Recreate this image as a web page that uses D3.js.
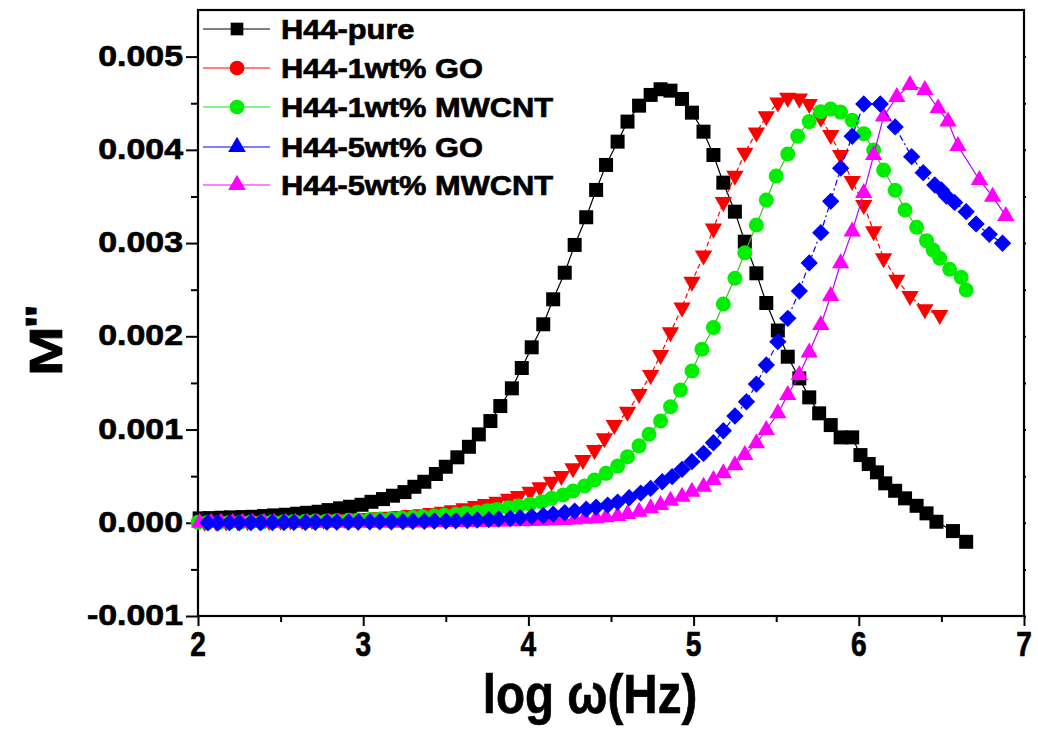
<!DOCTYPE html>
<html>
<head>
<meta charset="utf-8">
<script src="https://cdn.jsdelivr.net/npm/d3@7"></script>
<style>
  body { margin: 0; background: #fff; }
  text { font-family: "Liberation Sans", Arial, sans-serif; font-weight: bold; fill: #000; stroke: #000; stroke-width: 0.7px; }
</style>
</head>
<body>
<svg width="1038" height="731"></svg>
<script>
// tick labels
const xTicks = [2, 3, 4, 5, 6, 7];
const xMinor = [2.5, 3.5, 4.5, 5.5, 6.5];
const yTicks = [-0.001, 0, 0.001, 0.002, 0.003, 0.004, 0.005];
const yMinor = [-0.0005, 0.0005, 0.0015, 0.0025, 0.0035, 0.0045];
const yTickLabels = ["-0.001", "0.000", "0.001", "0.002", "0.003", "0.004", "0.005"];

const seriesNames = ["H44-pure", "H44-1wt% GO", "H44-1wt% MWCNT", "H44-5wt% GO", "H44-5wt% MWCNT"];

// H44-pure (black squares)
const pureX = [2.01, 2.07, 2.14, 2.20, 2.27, 2.33, 2.40, 2.46, 2.53, 2.60, 2.66, 2.73, 2.79, 2.86, 2.92, 2.99,
  3.05, 3.12, 3.18, 3.25, 3.31, 3.37, 3.44, 3.50, 3.57, 3.64, 3.70, 3.77, 3.83, 3.90, 3.96, 4.02, 4.09, 4.15,
  4.22, 4.28, 4.35, 4.41, 4.47, 4.54, 4.60, 4.67, 4.74, 4.80, 4.86, 4.93, 4.99, 5.06, 5.12, 5.18, 5.25, 5.31,
  5.38, 5.44, 5.51, 5.57, 5.64, 5.70, 5.76, 5.83, 5.89, 5.96, 6.01, 6.06, 6.11, 6.16, 6.22, 6.28, 6.35, 6.41,
  6.47, 6.57, 6.65];
const pureY = [0.000047, 0.00005, 0.000054, 0.000058, 0.000061, 0.000064, 0.000072, 0.000079, 0.000086, 0.000097,
  0.000107, 0.000118, 0.000136, 0.000155, 0.000172, 0.000193, 0.000225, 0.000254, 0.00029, 0.000329, 0.000386,
  0.00044, 0.000523, 0.000601, 0.000702, 0.000815, 0.000948, 0.001091, 0.001252, 0.001442, 0.00166, 0.001882,
  0.002129, 0.002397, 0.002682, 0.00298, 0.003277, 0.00357, 0.003838, 0.004088, 0.004303, 0.004474, 0.004589,
  0.00465, 0.004635, 0.004546, 0.004399, 0.004195, 0.003945, 0.003648, 0.003337, 0.003015, 0.002676, 0.002357,
  0.002062, 0.001781, 0.001549, 0.001345, 0.001174, 0.001048, 0.000916, 0.000916, 0.000726, 0.00063, 0.000541,
  0.000423, 0.000343, 0.000262, 0.000182, 0.000101, 0.000011, -0.000089, -0.000204];

// H44-1wt% GO (red down triangles)
const go1X = [2.04, 2.11, 2.17, 2.24, 2.30, 2.37, 2.43, 2.50, 2.56, 2.63, 2.69, 2.76, 2.83, 2.89, 2.96, 3.02,
  3.09, 3.15, 3.22, 3.28, 3.35, 3.41, 3.48, 3.54, 3.61, 3.68, 3.74, 3.81, 3.88, 3.94, 4.01, 4.07, 4.14, 4.20,
  4.27, 4.33, 4.40, 4.46, 4.52, 4.60, 4.67, 4.74, 4.80, 4.86, 4.93, 4.99, 5.06, 5.12, 5.18, 5.25, 5.31, 5.38,
  5.44, 5.51, 5.57, 5.64, 5.70, 5.77, 5.83, 5.89, 5.96, 6.03, 6.09, 6.15, 6.23, 6.31, 6.40, 6.49];
const go1Y = [0.000011, 0.000012, 0.000013, 0.000015, 0.000016, 0.000018, 0.00002, 0.000022, 0.000024, 0.000027,
  0.00003, 0.000033, 0.000037, 0.000041, 0.000046, 0.000052, 0.000058, 0.000065, 0.000073, 0.000082, 0.000092,
  0.000104, 0.000118, 0.000135, 0.000155, 0.000179, 0.0002, 0.000225, 0.000258, 0.000286, 0.000333, 0.00038,
  0.00044, 0.000501, 0.000584, 0.000673, 0.00078, 0.000906, 0.001048, 0.001191, 0.001381, 0.001585, 0.001799,
  0.002044, 0.002309, 0.002586, 0.002867, 0.003155, 0.003441, 0.003722, 0.00397, 0.004185, 0.00436, 0.004509,
  0.004559, 0.00455, 0.004492, 0.004344, 0.00416, 0.003945, 0.003666, 0.003409, 0.003127, 0.002837, 0.002607,
  0.002432, 0.00229, 0.002228];

// H44-1wt% MWCNT (green circles)
const cnt1X = [2.00, 2.06, 2.13, 2.19, 2.26, 2.32, 2.39, 2.45, 2.52, 2.58, 2.65, 2.71, 2.78, 2.84, 2.91, 2.97,
  3.04, 3.10, 3.17, 3.23, 3.30, 3.36, 3.43, 3.49, 3.56, 3.62, 3.69, 3.75, 3.81, 3.88, 3.94, 4.01, 4.08, 4.14,
  4.21, 4.27, 4.34, 4.40, 4.47, 4.54, 4.60, 4.67, 4.73, 4.80, 4.86, 4.92, 4.99, 5.05, 5.12, 5.18, 5.25, 5.31,
  5.38, 5.44, 5.50, 5.57, 5.63, 5.70, 5.77, 5.83, 5.89, 5.96, 6.03, 6.09, 6.15, 6.22, 6.28, 6.35, 6.41, 6.45,
  6.49, 6.55, 6.62, 6.65];
const cnt1Y = [0.000005, 0.000005, 0.000006, 0.000007, 0.000008, 0.000009, 0.00001, 0.000011, 0.000012, 0.000014,
  0.000016, 0.000018, 0.00002, 0.000023, 0.000026, 0.00003, 0.000034, 0.000039, 0.000044, 0.00005, 0.000057,
  0.000064, 0.000072, 0.000081, 0.000091, 0.000102, 0.000114, 0.000128, 0.000143, 0.00016, 0.000179, 0.0002,
  0.000225, 0.000262, 0.000297, 0.00034, 0.000394, 0.000458, 0.00053, 0.000608, 0.000708, 0.000825, 0.00095,
  0.001091, 0.001245, 0.001424, 0.001628, 0.001862, 0.002094, 0.002347, 0.002622, 0.002897, 0.003194, 0.003462,
  0.00372, 0.003956, 0.004149, 0.004303, 0.00441, 0.004439, 0.004405, 0.004318, 0.004174, 0.003999, 0.003784,
  0.003567, 0.003355, 0.00317, 0.003026, 0.002926, 0.002837, 0.002719, 0.002633, 0.002497];

// H44-5wt% GO (blue diamonds)
const go5X = [2.06, 2.12, 2.19, 2.25, 2.32, 2.38, 2.45, 2.52, 2.58, 2.65, 2.71, 2.78, 2.84, 2.91, 2.97, 3.04,
  3.10, 3.17, 3.24, 3.30, 3.37, 3.43, 3.50, 3.56, 3.63, 3.69, 3.76, 3.82, 3.89, 3.95, 4.02, 4.09, 4.15, 4.22,
  4.28, 4.35, 4.41, 4.48, 4.54, 4.61, 4.68, 4.74, 4.81, 4.87, 4.93, 4.99, 5.06, 5.12, 5.18, 5.25, 5.32, 5.38,
  5.44, 5.51, 5.57, 5.64, 5.70, 5.77, 5.83, 5.89, 5.96, 6.03, 6.13, 6.22, 6.32, 6.39, 6.46, 6.50, 6.53, 6.58,
  6.65, 6.71, 6.79, 6.87];
const go5Y = [0, 0, 0.000001, 0.000001, 0.000002, 0.000002, 0.000003, 0.000003, 0.000004, 0.000004, 0.000005,
  0.000006, 0.000006, 0.000007, 0.000008, 0.000009, 0.00001, 0.000011, 0.000012, 0.000014, 0.000015, 0.000017,
  0.000019, 0.000021, 0.000024, 0.000028, 0.000033, 0.000039, 0.000046, 0.000055, 0.000066, 0.000078, 0.000092,
  0.000108, 0.000125, 0.000145, 0.000167, 0.00019, 0.000222, 0.000268, 0.000318, 0.000369, 0.00044, 0.000494,
  0.000573, 0.000655, 0.000745, 0.000858, 0.000987, 0.001145, 0.001298, 0.001488, 0.001692, 0.001942, 0.002193,
  0.002486, 0.002787, 0.003112, 0.003448, 0.003803, 0.004146, 0.004492, 0.004492, 0.004246, 0.003927, 0.003755,
  0.003623, 0.00357, 0.003505, 0.003436, 0.003337, 0.003205, 0.003094, 0.002998];

// H44-5wt% MWCNT (magenta up triangles)
const cnt5X = [2.01, 2.08, 2.14, 2.21, 2.27, 2.33, 2.40, 2.46, 2.53, 2.59, 2.66, 2.72, 2.79, 2.85, 2.92, 2.98,
  3.05, 3.11, 3.18, 3.24, 3.31, 3.37, 3.44, 3.50, 3.57, 3.63, 3.70, 3.76, 3.83, 3.89, 3.96, 4.02, 4.08, 4.15,
  4.21, 4.28, 4.34, 4.41, 4.47, 4.54, 4.60, 4.67, 4.74, 4.80, 4.86, 4.93, 4.99, 5.06, 5.12, 5.18, 5.25, 5.31,
  5.38, 5.44, 5.51, 5.57, 5.64, 5.70, 5.77, 5.83, 5.89, 5.96, 6.03, 6.09, 6.15, 6.23, 6.31, 6.40, 6.48, 6.54,
  6.60, 6.73, 6.81, 6.89];
const cnt5Y = [0, 0, 0, 0, 0, 0, 0, 0, 0.000001, 0.000001, 0.000001, 0.000001, 0.000002, 0.000002, 0.000002,
  0.000003, 0.000003, 0.000003, 0.000004, 0.000004, 0.000005, 0.000005, 0.000006, 0.000007, 0.000008, 0.000009,
  0.00001, 0.000011, 0.000013, 0.000015, 0.000017, 0.00002, 0.000023, 0.000027, 0.000031, 0.000036, 0.000042,
  0.000049, 0.000058, 0.000072, 0.000093, 0.000118, 0.000155, 0.00019, 0.000236, 0.000279, 0.000333, 0.000386,
  0.000458, 0.00053, 0.000618, 0.000726, 0.000852, 0.000995, 0.001174, 0.00137, 0.001585, 0.001826, 0.002121,
  0.002432, 0.002783, 0.003124, 0.003538, 0.003945, 0.004358, 0.004568, 0.004696, 0.004643, 0.004446, 0.004303,
  0.004042, 0.003677, 0.003498, 0.003291];

const svg = d3.select("svg");
const margin = { top: 10, right: 14, bottom: 115, left: 198 };
const width = +svg.attr("width") - margin.left - margin.right;
const height = +svg.attr("height") - margin.top - margin.bottom;

const g = svg.append("g").attr("transform", `translate(${margin.left},${margin.top})`);

const xScale = d3.scaleLinear().domain([2, 7]).range([0, width]);
const yScale = d3.scaleLinear().domain([-0.001, 0.0055]).range([height, 0]);

// text helper: stretched bold text like the original export
function label(parent, x, y, str, size, sx, anchor) {
  return parent.append("text")
    .attr("transform", `translate(${x},${y}) scale(${sx},1)`)
    .attr("text-anchor", anchor || "start")
    .attr("font-size", size)
    .attr("fill", "#000")
    .text(str);
}

// axes
const xAxis = g.append("g").attr("transform", `translate(0,${height})`);
xAxis.call(d3.axisBottom(xScale).tickValues(xTicks).tickSize(10).tickFormat(""));
xAxis.append("g").call(d3.axisBottom(xScale).tickValues(xMinor).tickSize(6).tickFormat(""));
xAxis.selectAll(".domain").remove();
xTicks.forEach(t => label(xAxis, xScale(t), 40, String(t), 36, 0.78, "middle"));

const yAxis = g.append("g");
yAxis.call(d3.axisLeft(yScale).tickValues(yTicks).tickSize(12).tickFormat(""));
yAxis.append("g").call(d3.axisLeft(yScale).tickValues(yMinor).tickSize(7).tickFormat(""));
yAxis.selectAll(".domain").remove();
yTicks.forEach((t, i) => label(yAxis, -15, yScale(t) + 9, yTickLabels[i], 30, 1.13, "end"));

// right side tiny ticks
g.append("g").attr("transform", `translate(${width},0)`)
  .call(d3.axisRight(yScale).tickValues(yTicks.concat(yMinor)).tickSize(2).tickFormat(""))
  .selectAll(".domain").remove();

g.selectAll(".tick line").attr("stroke", "#000").attr("stroke-width", 2);

g.append("rect")
  .attr("width", width).attr("height", height)
  .attr("fill", "none").attr("stroke", "#000").attr("stroke-width", 2.2);

// axis titles
label(svg, 590, 713, "log ω(Hz)", 56, 0.85, "middle");

const yt = svg.append("text")
  .attr("transform", "translate(62,340) rotate(-90) scale(1.3,1)")
  .attr("text-anchor", "middle")
  .attr("font-size", 46);
yt.append("tspan").text("M");
yt.append("tspan").attr("dy", -8).attr("dx", -2).attr("font-size", 40).text("\"");

// series
const series = [
  { name: seriesNames[0], xs: pureX, ys: pureY, color: "#000000", line: "#000000", dash: null, shape: "square" },
  { name: seriesNames[1], xs: go1X, ys: go1Y, color: "#ff0000", line: "#ff0000", dash: "5,3", shape: "tridown" },
  { name: seriesNames[2], xs: cnt1X, ys: cnt1Y, color: "#00ee00", line: "#44bb22", dash: null, shape: "circle" },
  { name: seriesNames[3], xs: go5X, ys: go5Y, color: "#0000ff", line: "#0000ff", dash: "6,3,2,3", shape: "diamond" },
  { name: seriesNames[4], xs: cnt5X, ys: cnt5Y, color: "#ff00ff", line: "#c000ff", dash: null, shape: "triup" }
];

function markerPath(shape) {
  if (shape === "square") return d3.symbol(d3.symbolSquare, 196)();
  if (shape === "circle") return d3.symbol(d3.symbolCircle, 176)();
  if (shape === "diamond") return d3.symbol(d3.symbolSquare, 150)();
  return d3.symbol(d3.symbolTriangle, 130)();
}
function markerRot(shape) {
  if (shape === "diamond") return " rotate(45)";
  if (shape === "tridown") return " rotate(180)";
  return "";
}

const line = d3.line().x(d => xScale(d[0])).y(d => yScale(d[1]));
const plot = g.append("g");

// draw order: magenta under blue as in the original band at low frequency
[0, 1, 2, 4, 3].forEach(i => {
  const s = series[i];
  const pts = s.xs.map((x, j) => [x, s.ys[j]]);
  plot.append("path")
    .datum(pts)
    .attr("d", line)
    .attr("fill", "none")
    .attr("stroke", s.line)
    .attr("stroke-width", 1.2)
    .attr("stroke-dasharray", s.dash);
  plot.append("g").selectAll("path")
    .data(pts)
    .enter()
    .append("path")
    .attr("d", markerPath(s.shape))
    .attr("transform", d => `translate(${xScale(d[0])},${yScale(d[1])})` + markerRot(s.shape))
    .attr("fill", s.color);
});

// legend (markers as in the original legend)
const legendShapes = [
  d3.symbol(d3.symbolSquare, 161)(),
  d3.symbol(d3.symbolCircle, 170)(),
  d3.symbol(d3.symbolCircle, 170)(),
  d3.symbol(d3.symbolTriangle, 135)(),
  d3.symbol(d3.symbolTriangle, 135)()
];
const legendRows = [29, 68, 107, 147, 185];
const legend = svg.append("g");
series.forEach((s, i) => {
  const yy = legendRows[i];
  legend.append("line")
    .attr("x1", 203).attr("x2", 270).attr("y1", yy).attr("y2", yy)
    .attr("stroke", s.line === "#44bb22" ? "#00ee00" : s.color).attr("stroke-width", 1.2);
  legend.append("path")
    .attr("d", legendShapes[i])
    .attr("transform", `translate(237,${yy})`)
    .attr("fill", s.color);
  label(legend, 281, yy + 10, s.name, 28, 1.1, "start");
});
</script>
</body>
</html>
